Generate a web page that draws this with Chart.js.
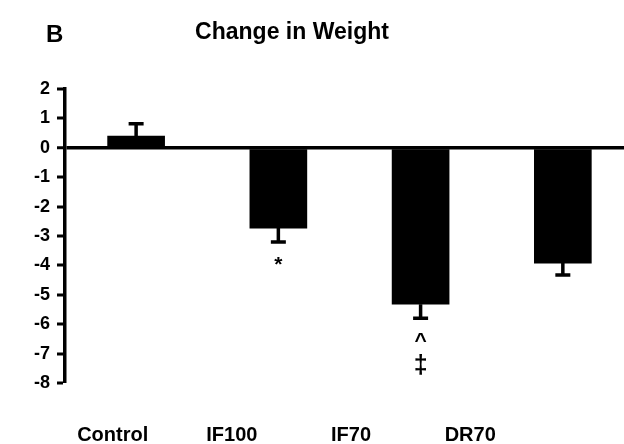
<!DOCTYPE html>
<html>
<head>
<meta charset="utf-8">
<script src="https://cdn.jsdelivr.net/npm/chart.js@4/dist/chart.umd.min.js"></script>
<style>
  html, body { margin: 0; padding: 0; background: #fff; overflow: hidden; }
  #wrap { width: 624px; height: 444px; position: relative; }
</style>
</head>
<body>
<div id="wrap"><canvas id="c" width="624" height="444"></canvas></div>
<script>
// ---- data ----
const categories = ["Control", "IF100", "IF70", "DR70"];
const weightChange = [0.4, -2.73, -5.32, -3.92];
const sem = [0.42, 0.47, 0.48, 0.41];
const significance = [[], ["*"], ["^", "‡"], []];
const yTicks = [2, 1, 0, -1, -2, -3, -4, -5, -6, -7, -8];
const panelLetter = "B";
const chartTitle = "Change in Weight";

const FONT = "'Liberation Sans', Arial, Helvetica, sans-serif";

const errorBars = {
  id: 'errorBars',
  afterDatasetsDraw(chart) {
    const xs = chart.scales.x, ys = chart.scales.y, ctx = chart.ctx;
    ctx.save();
    ctx.strokeStyle = '#000';
    ctx.fillStyle = '#000';
    ctx.lineWidth = 3.5;
    weightChange.forEach((v, i) => {
      const x = xs.getPixelForValue(i);
      const dir = v >= 0 ? 1 : -1;
      const y0 = ys.getPixelForValue(v);
      const y1 = ys.getPixelForValue(v + dir * sem[i]);
      ctx.beginPath();
      ctx.moveTo(x, y0); ctx.lineTo(x, y1);
      ctx.moveTo(x - 7.5, y1); ctx.lineTo(x + 7.5, y1);
      ctx.stroke();
      const marks = significance[i];
      ctx.textAlign = 'center';
      ctx.textBaseline = 'middle';
      marks.forEach((m, k) => {
        ctx.font = (k === 1 ? 'bold 25px ' : 'bold 21px ') + FONT;
        ctx.fillText(m, x, y1 + 23 + k * 25);
      });
    });
    ctx.restore();
  }
};

const titles = {
  id: 'titles',
  afterDraw(chart) {
    const ctx = chart.ctx;
    ctx.save();
    ctx.fillStyle = '#000';
    ctx.textBaseline = 'alphabetic';
    ctx.font = 'bold 24px ' + FONT;
    ctx.textAlign = 'left';
    ctx.fillText(panelLetter, 46, 42);
    ctx.textAlign = 'center';
    ctx.font = 'bold 23px ' + FONT;
    ctx.fillText(chartTitle, 292, 39);
    ctx.restore();
  }
};

new Chart(document.getElementById('c'), {
  type: 'bar',
  data: {
    datasets: [{
      data: weightChange.map((v, i) => ({ x: i, y: v })),
      backgroundColor: '#000',
      borderWidth: 0,
      barThickness: 57
    }]
  },
  options: {
    responsive: false,
    animation: false,
    events: [],
    layout: { padding: { top: 89, right: 0, left: 0, bottom: 0 } },
    plugins: { legend: { display: false }, tooltip: { enabled: false }, title: { display: false } },
    scales: {
      x: {
        type: 'linear',
        display: false,
        min: -0.5,
        max: 3.43,
        offset: false
      },
      xLabels: {
        type: 'linear',
        position: 'bottom',
        min: -0.4,
        max: 4.29,
        offset: false,
        afterBuildTicks(scale) { scale.ticks = categories.map((c, i) => ({ value: i })); },
        afterFit(scale) { scale.height = 61; },
        grid: { display: false, drawTicks: false, offset: false },
        border: { display: false },
        ticks: {
          autoSkip: false,
          maxRotation: 0,
          padding: 40,
          color: '#000',
          font: { family: FONT, weight: 'bold', size: 20 },
          callback: (v) => categories[v]
        }
      },
      y: {
        min: -8,
        max: 2,
        afterBuildTicks(scale) { scale.ticks = yTicks.map(v => ({ value: v })); },
        afterFit(scale) { scale.width = 65; },
        grid: {
          drawOnChartArea: true,
          color: (c) => (c.tick && c.tick.value === 0) ? '#000' : 'rgba(0,0,0,0)',
          lineWidth: (c) => (c.tick && c.tick.value === 0) ? 3.5 : 0,
          tickColor: '#000',
          tickWidth: 3,
          tickLength: 8,
          drawTicks: true
        },
        border: { display: true, color: '#000', width: 3.5 },
        ticks: {
          padding: 7,
          color: '#000',
          font: { family: FONT, weight: 'bold', size: 18 }
        }
      }
    }
  },
  plugins: [errorBars, titles]
});
</script>
</body>
</html>
